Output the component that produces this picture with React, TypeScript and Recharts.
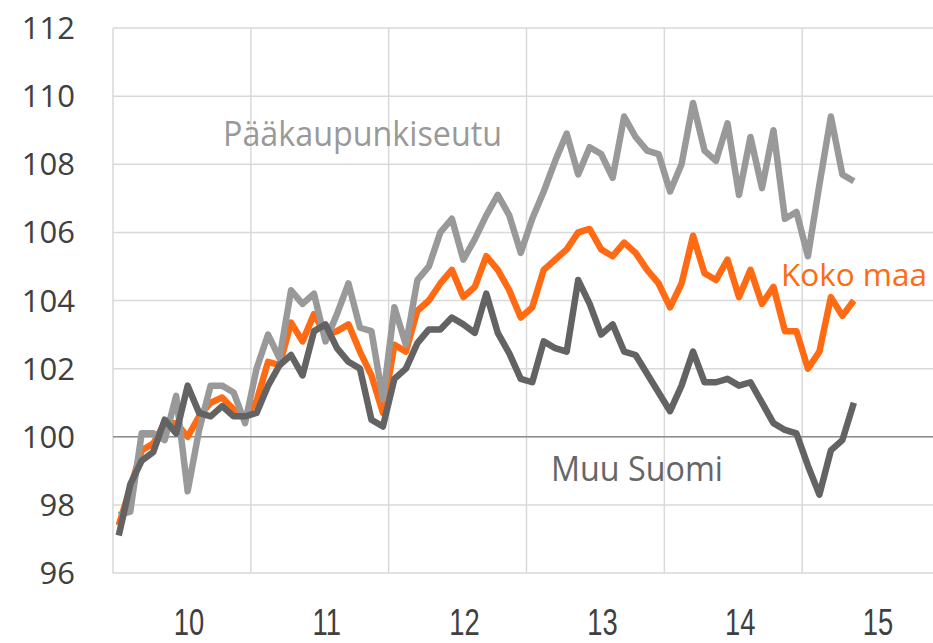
import React from 'react';
import { LineChart, Line, XAxis, YAxis, CartesianGrid, ReferenceLine } from 'recharts';

// monthly index values, Jan 2010 - May 2015
const paakaupunkiseutu = [
  97.7, 97.8, 100.1, 100.1, 99.9, 101.2, 98.4, 100.2, 101.5, 101.5, 101.3, 100.4,
  102.0, 103.0, 102.3, 104.3, 103.9, 104.2, 102.8, 103.6, 104.5, 103.2, 103.1, 101.1,
  103.8, 102.7, 104.6, 105.0, 106.0, 106.4, 105.2, 105.8, 106.5, 107.1, 106.5, 105.4,
  106.4, 107.2, 108.1, 108.9, 107.7, 108.5, 108.3, 107.6, 109.4, 108.8, 108.4, 108.3,
  107.2, 108.0, 109.8, 108.4, 108.1, 109.2, 107.1, 108.8, 107.3, 109.0, 106.4, 106.6,
  105.3, 107.4, 109.4, 107.7, 107.5,
];

const kokoMaa = [
  97.4, 98.5, 99.6, 99.8, 100.4, 100.4, 100.0, 100.6, 101.0, 101.15, 100.8, 100.6,
  101.05, 102.2, 102.1, 103.35, 102.8, 103.6, 103.0, 103.1, 103.3, 102.5, 101.8, 100.7,
  102.7, 102.5, 103.7, 104.0, 104.5, 104.9, 104.1, 104.4, 105.3, 104.9, 104.3, 103.5,
  103.8, 104.9, 105.2, 105.5, 106.0, 106.1, 105.5, 105.3, 105.7, 105.4, 104.9, 104.5,
  103.8, 104.5, 105.9, 104.8, 104.6, 105.2, 104.1, 104.9, 103.9, 104.4, 103.1, 103.1,
  102.0, 102.5, 104.1, 103.55, 104.0,
];

const muuSuomi = [
  97.1, 98.6, 99.3, 99.55, 100.5, 100.1, 101.5, 100.7, 100.6, 100.9, 100.6, 100.6,
  100.7, 101.5, 102.1, 102.4, 101.8, 103.1, 103.3, 102.6, 102.2, 102.0, 100.5, 100.3,
  101.7, 102.0, 102.75, 103.15, 103.15, 103.5, 103.3, 103.05, 104.2, 103.05, 102.45, 101.7,
  101.6, 102.8, 102.6, 102.5, 104.6, 103.9, 103.0, 103.3, 102.5, 102.4, 101.85, 101.3,
  100.75, 101.5, 102.5, 101.6, 101.6, 101.7, 101.5, 101.6, 101.0, 100.4, 100.2, 100.1,
  99.15, 98.3, 99.6, 99.9, 101.0,
];

const yearLabels = ['10', '11', '12', '13', '14', '15'];
const yearStarts = [0, 12, 24, 36, 48, 60, 72];
const yTicks = [96, 98, 100, 102, 104, 106, 108, 110, 112];

const data = paakaupunkiseutu.map((v, i) => ({
  t: i + 0.5,
  paakaupunkiseutu: v,
  kokoMaa: kokoMaa[i],
  muuSuomi: muuSuomi[i],
}));

const yearTicks = yearLabels.map((_, i) => i * 12 + 6);

const GRID = '#d9d9d9';
const ORANGE = '#ff6a13';

// narrow year labels under the axis
const YearTick = (props: any) => {
  const { x, y, payload } = props;
  const label = yearLabels[Math.floor(payload.value / 12)];
  return (
    <g transform={`translate(${x + 7},${y + 62}) scale(0.74,1)`}>
      <text x={0} y={0} textAnchor="middle" fill="#404040" fontSize={37} fontFamily='"Liberation Sans", sans-serif'>
        {label}
      </text>
    </g>
  );
};

const App = () => {
  return (
    <div style={{ position: 'absolute', left: 0, top: 0, width: 933, height: 643, overflow: 'hidden', background: '#fff' }}>
      <LineChart width={940} height={643} data={data} margin={{ top: 28, right: 0, bottom: 0, left: 0 }}>
        <CartesianGrid vertical={false} stroke={GRID} strokeWidth={1.5} />
        {yearStarts.map((x) => (
          <ReferenceLine key={`v-${x}`} x={x} stroke={GRID} strokeWidth={1.5} />
        ))}
        <ReferenceLine y={100} stroke="#8c8c8c" strokeWidth={1.5} />
        <XAxis
          dataKey="t"
          type="number"
          domain={[0, 72]}
          ticks={yearTicks}
          axisLine={false}
          tickLine={false}
          tickSize={0}
          tickMargin={0}
          height={70}
          tick={<YearTick />}
        />
        <YAxis
          domain={[96, 112]}
          ticks={yTicks}
          axisLine={false}
          tickLine={false}
          tickSize={0}
          tickMargin={38}
          width={113}
          tick={{ fill: '#404040', fontSize: 31, fontFamily: '"Open Sans", sans-serif' }}
        />
        <Line dataKey="kokoMaa" stroke={ORANGE} strokeWidth={6.5} dot={false} strokeLinejoin="round" isAnimationActive={false} />
        <Line dataKey="paakaupunkiseutu" stroke="#999999" strokeWidth={6.5} dot={false} strokeLinejoin="round" isAnimationActive={false} />
        <Line dataKey="muuSuomi" stroke="#636363" strokeWidth={6.5} dot={false} strokeLinejoin="round" isAnimationActive={false} />
      </LineChart>
      <svg width={933} height={643} style={{ position: 'absolute', left: 0, top: 0, pointerEvents: 'none' }}>
        <g fontFamily='"Open Sans", sans-serif' fontSize={34}>
          <text x={223} y={146} fill="#999999" textLength={279} lengthAdjust="spacingAndGlyphs">Pääkaupunkiseutu</text>
          <text x={781} y={286} fill={ORANGE} fontSize={31} textLength={146} lengthAdjust="spacingAndGlyphs">Koko maa</text>
          <text x={551} y={481} fill="#666666" textLength={172} lengthAdjust="spacingAndGlyphs">Muu Suomi</text>
        </g>
      </svg>
    </div>
  );
};

export default App;
